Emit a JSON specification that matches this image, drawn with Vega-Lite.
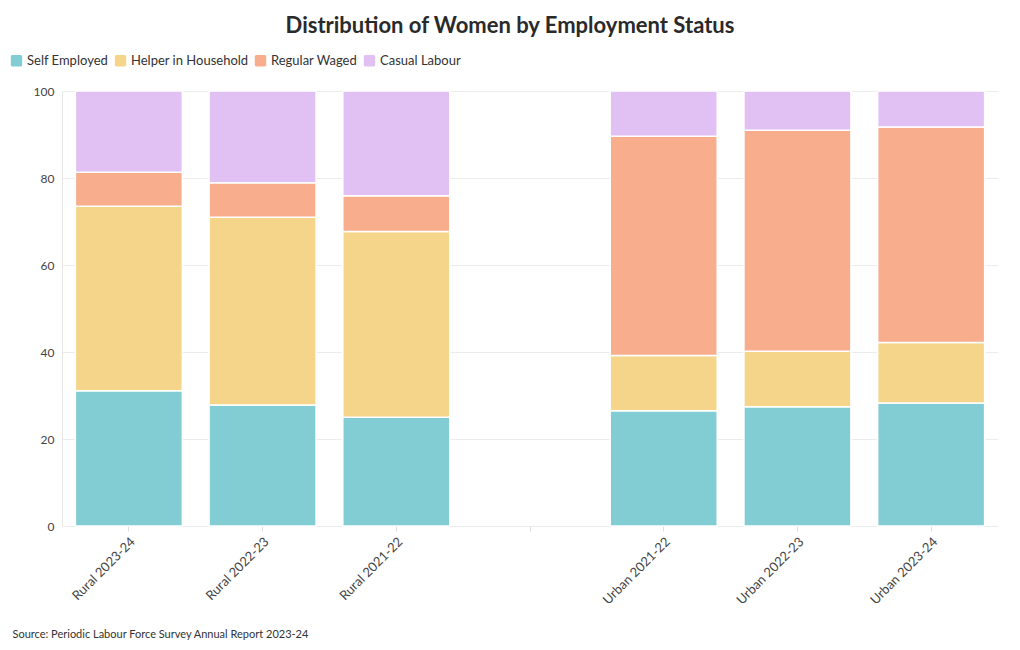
{
  "$schema": "https://vega.github.io/schema/vega-lite/v6.json",
  "width": 936,
  "height": 435,
  "autosize": {"type": "none"},
  "padding": {"left": 62, "top": 91, "right": 22, "bottom": 124},
  "background": "white",
  "title": {
    "text": "Distribution of Women by Employment Status",
    "font": "Lato",
    "fontSize": 22,
    "fontWeight": "bold",
    "color": "#2a2a2a",
    "anchor": "middle",
    "frame": "group",
    "dx": -20,
    "baseline": "alphabetic",
    "offset": -1
  },
  "data": {
    "values": [
      {"cat": "Rural 2023-24", "status": "Self Employed", "value": 31.1},
      {"cat": "Rural 2023-24", "status": "Helper in Household", "value": 42.4},
      {"cat": "Rural 2023-24", "status": "Regular Waged", "value": 7.8},
      {"cat": "Rural 2023-24", "status": "Casual Labour", "value": 18.7},
      {"cat": "Rural 2022-23", "status": "Self Employed", "value": 27.8},
      {"cat": "Rural 2022-23", "status": "Helper in Household", "value": 43.2},
      {"cat": "Rural 2022-23", "status": "Regular Waged", "value": 7.9},
      {"cat": "Rural 2022-23", "status": "Casual Labour", "value": 21.1},
      {"cat": "Rural 2021-22", "status": "Self Employed", "value": 25.0},
      {"cat": "Rural 2021-22", "status": "Helper in Household", "value": 42.7},
      {"cat": "Rural 2021-22", "status": "Regular Waged", "value": 8.2},
      {"cat": "Rural 2021-22", "status": "Casual Labour", "value": 24.1},
      {"cat": "Urban 2021-22", "status": "Self Employed", "value": 26.5},
      {"cat": "Urban 2021-22", "status": "Helper in Household", "value": 12.7},
      {"cat": "Urban 2021-22", "status": "Regular Waged", "value": 50.4},
      {"cat": "Urban 2021-22", "status": "Casual Labour", "value": 10.4},
      {"cat": "Urban 2022-23", "status": "Self Employed", "value": 27.4},
      {"cat": "Urban 2022-23", "status": "Helper in Household", "value": 12.8},
      {"cat": "Urban 2022-23", "status": "Regular Waged", "value": 50.8},
      {"cat": "Urban 2022-23", "status": "Casual Labour", "value": 9.0},
      {"cat": "Urban 2023-24", "status": "Self Employed", "value": 28.3},
      {"cat": "Urban 2023-24", "status": "Helper in Household", "value": 13.9},
      {"cat": "Urban 2023-24", "status": "Regular Waged", "value": 49.5},
      {"cat": "Urban 2023-24", "status": "Casual Labour", "value": 8.3}
    ]
  },
  "transform": [
    {"calculate": "indexof(['Self Employed','Helper in Household','Regular Waged','Casual Labour'], datum.status)", "as": "ord"}
  ],
  "mark": {"type": "bar", "stroke": "white", "strokeWidth": 1.5},
  "encoding": {
    "x": {
      "field": "cat",
      "type": "nominal",
      "scale": {
        "domain": ["Rural 2023-24", "Rural 2022-23", "Rural 2021-22", " ", "Urban 2021-22", "Urban 2022-23", "Urban 2023-24"],
        "paddingInner": 0.2,
        "paddingOuter": 0.1
      },
      "axis": {
        "title": "Source: Periodic Labour Force Survey Annual Report 2023-24",
        "titleFont": "Lato",
        "titleFontSize": 11,
        "titleFontWeight": "normal",
        "titleColor": "#333",
        "titleAnchor": "start",
        "titleAlign": "left",
        "titleBaseline": "alphabetic",
        "titleX": -50,
        "titleY": 111,
        "labelAngle": -45,
        "labelFont": "Lato",
        "labelFontSize": 13,
        "labelColor": "#444",
        "labelPadding": 4,
        "domain": false,
        "grid": false,
        "ticks": true,
        "tickColor": "#ddd",
        "tickSize": 5
      }
    },
    "y": {
      "field": "value",
      "type": "quantitative",
      "stack": "zero",
      "scale": {"domain": [0, 100]},
      "axis": {
        "title": null,
        "values": [0, 20, 40, 60, 80, 100],
        "labelFont": "Lato",
        "labelFontSize": 12,
        "labelColor": "#444",
        "labelPadding": 8,
        "ticks": false,
        "grid": true,
        "gridColor": "#ececec",
        "domain": true,
        "domainColor": "#e6e6e6"
      }
    },
    "color": {
      "field": "status",
      "type": "nominal",
      "sort": ["Self Employed", "Helper in Household", "Regular Waged", "Casual Labour"],
      "scale": {
        "domain": ["Self Employed", "Helper in Household", "Regular Waged", "Casual Labour"],
        "range": ["#82CDD4", "#F5D58A", "#F8AD8C", "#E1C0F4"]
      },
      "legend": {
        "title": null,
        "orient": "none",
        "legendX": -52,
        "legendY": -37,
        "direction": "horizontal",
        "labelFont": "Lato",
        "labelFontSize": 13,
        "labelColor": "#333",
        "labelOffset": 4,
        "columnPadding": 5,
        "symbolType": "M-0.75,-1 L0.75,-1 Q1,-1 1,-0.7 L1,0.7 Q1,1 0.75,1 L-0.75,1 Q-1,1 -1,0.7 L-1,-0.7 Q-1,-1 -0.75,-1 Z",
        "symbolSize": 130,
        "symbolStrokeWidth": 0
      }
    },
    "order": {"field": "ord", "type": "quantitative", "sort": "ascending"}
  },
  "config": {
    "view": {"stroke": null},
    "font": "Lato"
  }
}
